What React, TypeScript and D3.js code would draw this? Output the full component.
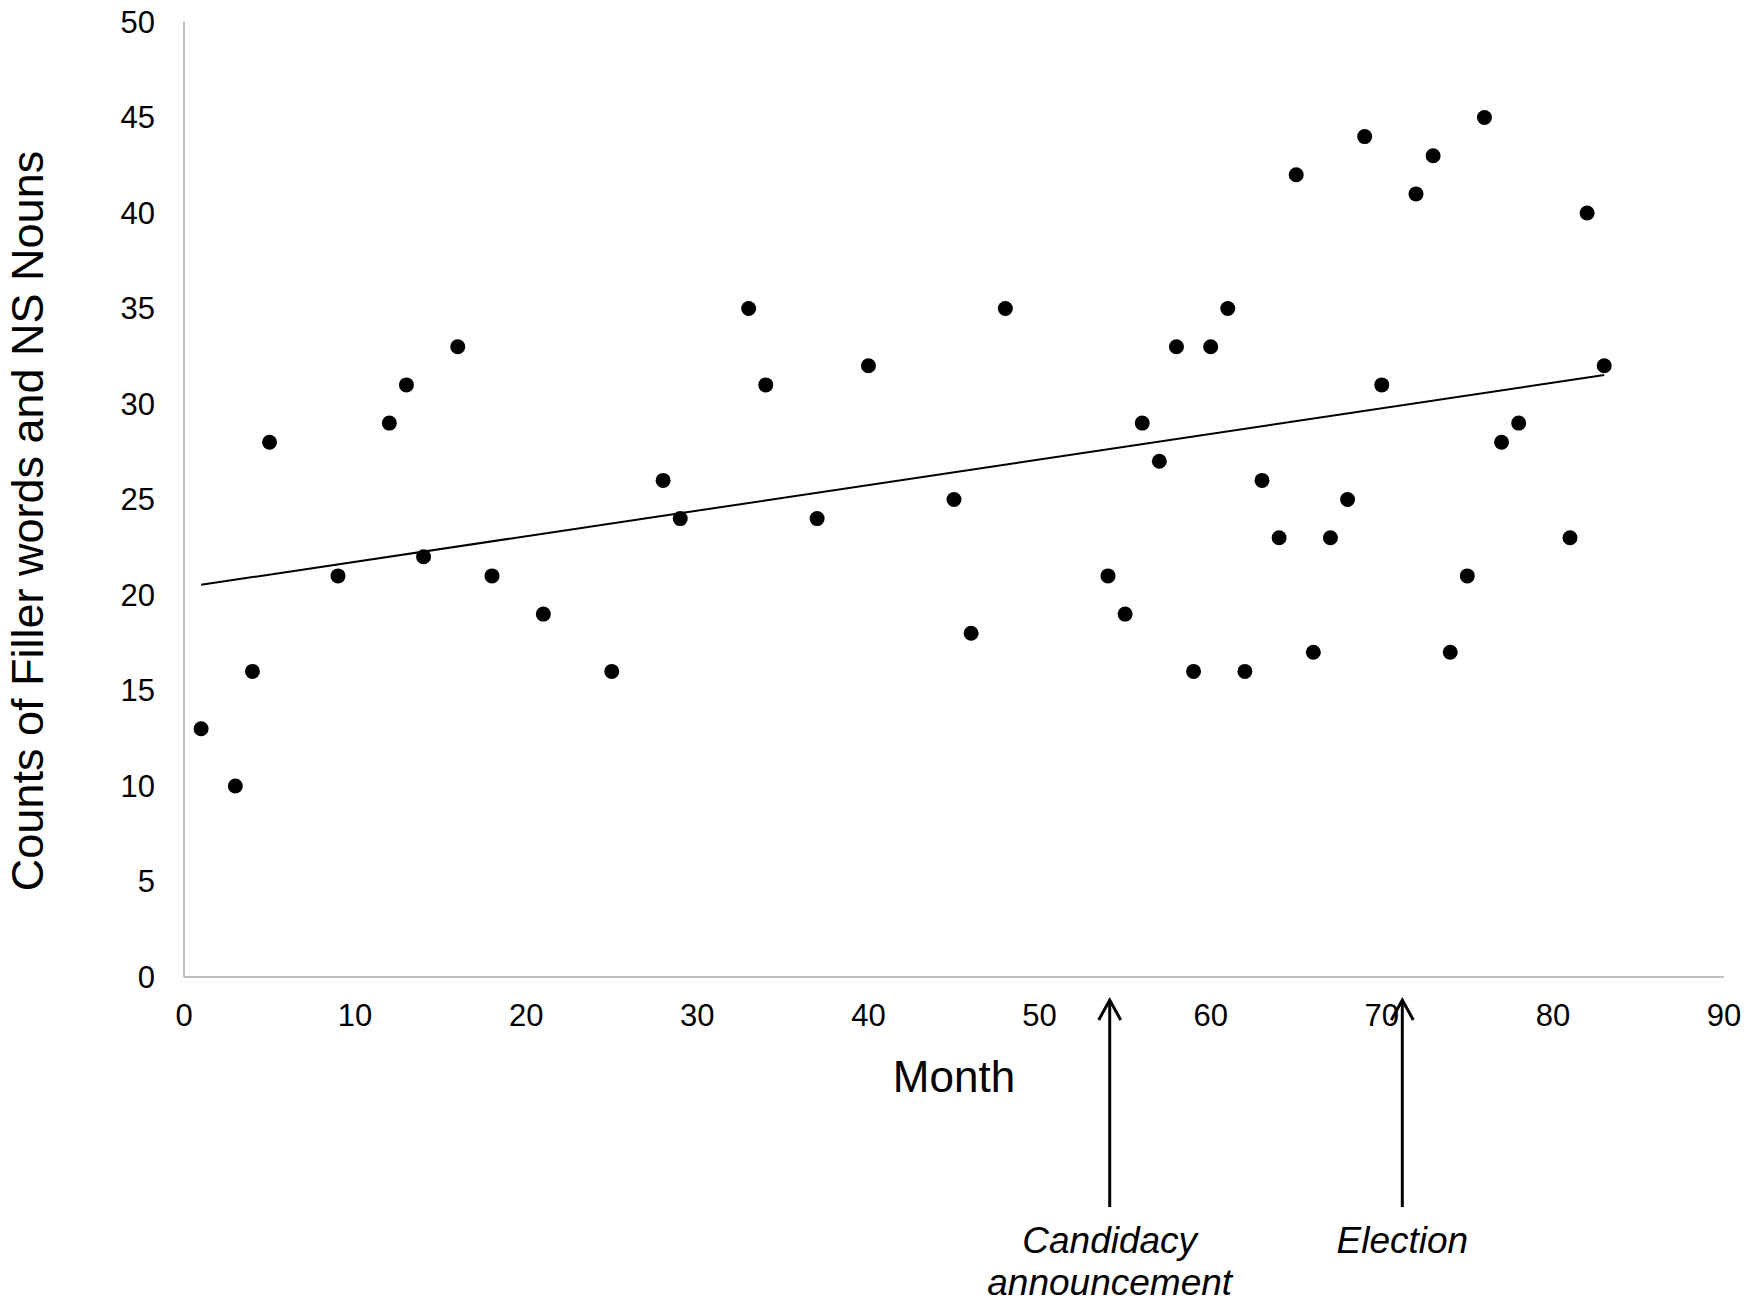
import React, { useMemo } from "react";
import * as d3 from "d3";

const months = [1, 3, 4, 5, 9, 12, 13, 14, 16, 18, 21, 25, 28, 29, 33, 34, 37, 40, 45, 46, 48, 54, 55, 56, 57, 58, 59, 60, 61, 62, 63, 64, 65, 66, 67, 68, 69, 70, 72, 73, 74, 75, 76, 77, 78, 81, 82, 83];
const counts = [13, 10, 16, 28, 21, 29, 31, 22, 33, 21, 19, 16, 26, 24, 35, 31, 24, 32, 25, 18, 35, 21, 19, 29, 27, 33, 16, 33, 35, 16, 26, 23, 42, 17, 23, 25, 44, 31, 41, 43, 17, 21, 45, 28, 29, 23, 40, 32];
const xTicks = [0, 10, 20, 30, 40, 50, 60, 70, 80, 90];
const yTicks = [0, 5, 10, 15, 20, 25, 30, 35, 40, 45, 50];
const eventMonths = [54.1, 71.2];
const eventLabels = [["Candidacy", "announcement"], ["Election"]];

const FONT = "'Liberation Sans', Arial, Helvetica, sans-serif";

export default function App() {
  const W = 1750;
  const H = 1304;
  const x = d3.scaleLinear().domain([0, 90]).range([184, 1724]);
  const y = d3.scaleLinear().domain([0, 50]).range([977, 22]);

  const trend = useMemo(() => {
    const mx = d3.mean(months)!;
    const my = d3.mean(counts)!;
    let sxy = 0;
    let sxx = 0;
    months.forEach((m, i) => {
      sxy += (m - mx) * (counts[i] - my);
      sxx += (m - mx) * (m - mx);
    });
    const b = sxy / sxx;
    const a = my - b * mx;
    const x0 = d3.min(months)!;
    const x1 = d3.max(months)!;
    return [
      [x0, a + b * x0],
      [x1, a + b * x1],
    ] as [number, number][];
  }, []);

  const line = d3
    .line<[number, number]>()
    .x((d) => x(d[0]))
    .y((d) => y(d[1]));

  const arrowTop = 1000;
  const arrowBottom = 1207;

  return (
    <svg
      width={W}
      height={H}
      viewBox={`0 0 ${W} ${H}`}
      style={{ position: "absolute", left: 0, top: 0, background: "#fff" }}
      fontFamily={FONT}
    >
      <rect x={0} y={0} width={W} height={H} fill="#fff" />
      {/* axes */}
      <line x1={x(0)} x2={x(0)} y1={y(50)} y2={y(0)} stroke="#bfbfbf" strokeWidth={2} />
      <line x1={x(0)} x2={x(90)} y1={y(0)} y2={y(0)} stroke="#bfbfbf" strokeWidth={2} />

      {yTicks.map((t) => (
        <text key={"y" + t} x={155} y={y(t)} textAnchor="end" dominantBaseline="central" fontSize={31} fill="#000">
          {t}
        </text>
      ))}
      {xTicks.map((t) => (
        <text key={"x" + t} x={x(t)} y={1026} textAnchor="middle" fontSize={31} fill="#000">
          {t}
        </text>
      ))}

      <text x={(x(0) + x(90)) / 2} y={1092} textAnchor="middle" fontSize={44} fill="#000">
        Month
      </text>
      <text transform="translate(43,521) rotate(-90)" textAnchor="middle" fontSize={45} fill="#000">
        Counts of Filler words and NS Nouns
      </text>

      {/* trendline */}
      <path d={line(trend) || ""} fill="none" stroke="#000" strokeWidth={2} />

      {/* points */}
      {months.map((m, i) => (
        <circle key={i} cx={x(m)} cy={y(counts[i])} r={7.5} fill="#000" />
      ))}

      {/* event arrows */}
      {eventMonths.map((m, i) => {
        const cx = x(m);
        return (
          <g key={"e" + i}>
            <line x1={cx} x2={cx} y1={arrowBottom} y2={arrowTop + 1} stroke="#000" strokeWidth={3} />
            <polyline
              points={`${cx - 11},${arrowTop + 20} ${cx},${arrowTop} ${cx + 11},${arrowTop + 20}`}
              fill="none"
              stroke="#000"
              strokeWidth={3}
            />
            {eventLabels[i].map((s, j) => (
              <text key={j} x={cx} y={1253 + j * 42} textAnchor="middle" fontSize={37} fontStyle="italic" fill="#000">
                {s}
              </text>
            ))}
          </g>
        );
      })}
    </svg>
  );
}
